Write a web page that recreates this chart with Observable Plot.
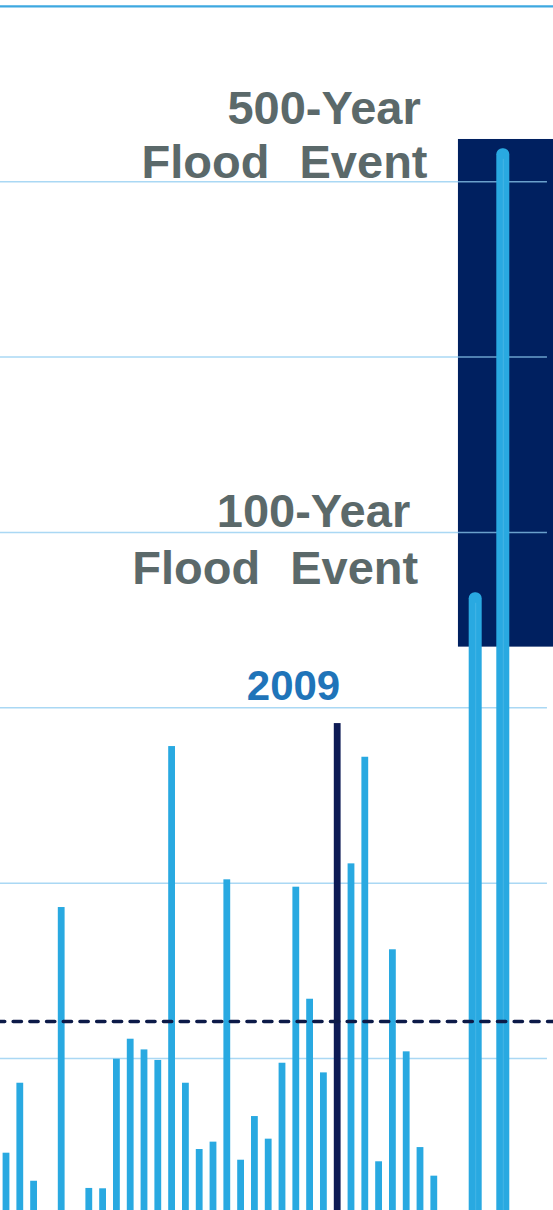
<!DOCTYPE html>
<html>
<head>
<meta charset="utf-8">
<script src="https://cdn.jsdelivr.net/npm/d3@7"></script>
<script src="https://cdn.jsdelivr.net/npm/@observablehq/plot@0.6"></script>
<style>
  html, body { margin: 0; padding: 0; background: #ffffff; }
  #chart svg text { white-space: pre; word-spacing: 2px; }
</style>
</head>
<body>
<div id="chart"></div>
<script>
// ---- data (units: gridline steps) ----
const years = [1985,1986,1987,1988,1989,1990,1991,1992,1993,1994,1995,1996,1997,1998,1999,2000,
               2001,2002,2003,2004,2005,2006,2007,2008,2009,2010,2011,2012,2013,2014,2015,2016];
const peaks = [0.46,0.859,0.30,null,1.861,null,0.259,0.257,0.996,1.11,1.049,0.989,2.779,0.859,0.481,0.523,
               2.019,0.42,0.669,0.54,0.973,1.977,1.338,0.918,2.910,2.110,2.718,0.411,1.620,1.038,0.492,0.329];
const highlightYear = 2009;
const eventNames = ["100-Year", "500-Year"];
const eventSlots = [2019, 2021];
const eventPeaks = [3.656, 6.188];
const eventSubtitle = "Flood  Event";
const gridValues = [1, 2, 3, 4, 5, 6];
const topValue = 7;
const averageValue = 1.211;
const highlightLabelValue = 3;
const boxXRange = [2017.75, 2024.64];
const boxYRange = [3.346, 6.241];
const gridEndX = 2024.2;
const xDomain = [1984.5652, 2024.638];
const yDomain = [0.1332, 7.0336];

// ---- tables built from the arrays ----
const bars = years.map((year, i) => ({year, peak: peaks[i]})).filter(d => d.peak != null);
const events = eventNames.map((name, i) => ({name, slot: eventSlots[i], peak: eventPeaks[i], sub: eventSubtitle}));
const box = [{x1: boxXRange[0], x2: boxXRange[1], y1: boxYRange[0], y2: boxYRange[1]}];

const barBlue = "#29a9e1";
const navy = "#0e1b55";
const gray = "#5b696a";

const chart = Plot.plot({
  width: 553,
  height: 1210,
  marginTop: 0, marginBottom: 0, marginLeft: 0, marginRight: 0,
  x: {type: "linear", domain: xDomain, axis: null},
  y: {type: "linear", domain: yDomain, axis: null},
  style: {fontFamily: "'Liberation Sans', Arial, sans-serif", background: "#ffffff", overflow: "hidden"},
  marks: [
    // highlight box
    Plot.rect(box, {x1: "x1", x2: "x2", y1: "y1", y2: "y2", fill: "#002060"}),
    // gridlines
    Plot.ruleY(gridValues, {x1: xDomain[0], x2: gridEndX, stroke: "#8ecbf0", strokeOpacity: 0.75, strokeWidth: 1.5}),
    Plot.ruleY([topValue], {x1: xDomain[0], x2: xDomain[1], stroke: "#3ea8e0", strokeWidth: 2.2}),
    // annual bars
    Plot.rectY(bars, {
      x1: d => d.year - 0.5, x2: d => d.year + 0.5,
      y1: () => yDomain[0], y2: "peak",
      insetLeft: 3.5, insetRight: 3.5,
      fill: d => d.year === highlightYear ? navy : barBlue
    }),
    // event bars
    Plot.rectY(events, {
      x1: d => d.slot - 0.5, x2: d => d.slot + 0.5,
      y1: () => 0, y2: "peak",
      insetLeft: 0.4, insetRight: 0.4, rx: 6,
      fill: barBlue, clip: true
    }),
    Plot.ruleX(events, {x: "slot", y1: () => yDomain[0], y2: d => d.peak - 0.06, stroke: "#6fc6ee", strokeOpacity: 0.5, strokeWidth: 0.8}),
    // average dashed line
    Plot.ruleY([averageValue], {x1: xDomain[0], x2: xDomain[1], stroke: "#0c1a48", strokeWidth: 3.6,
      strokeDasharray: "8.2,8.5", strokeDashoffset: 3.5, strokeLinecap: "round"}),
    // labels
    Plot.text([events[1]], {x: "slot", y: "peak", text: "name", dx: -82.5, dy: -25,
      textAnchor: "end", lineAnchor: "bottom", fontSize: 47, fontWeight: "bold", fill: gray}),
    Plot.text([events[1]], {x: "slot", y: "peak", text: "sub", dx: -75.8, dy: 29,
      textAnchor: "end", lineAnchor: "bottom", fontSize: 47, fontWeight: "bold", fill: gray}),
    Plot.text([events[0]], {x: "slot", y: "peak", text: "name", dx: -65.5, dy: -65.6,
      textAnchor: "end", lineAnchor: "bottom", fontSize: 47, fontWeight: "bold", fill: gray}),
    Plot.text([events[0]], {x: "slot", y: "peak", text: "sub", dx: -57.5, dy: -9,
      textAnchor: "end", lineAnchor: "bottom", fontSize: 47, fontWeight: "bold", fill: gray}),
    Plot.text([String(highlightYear)], {x: () => highlightYear, y: () => highlightLabelValue, text: d => d, dx: -44.2, dy: -8.3,
      textAnchor: "middle", lineAnchor: "bottom", fontSize: 42, fontWeight: "bold", fill: "#1f74b9"})
  ]
});
document.getElementById("chart").appendChild(chart);
</script>
</body>
</html>
